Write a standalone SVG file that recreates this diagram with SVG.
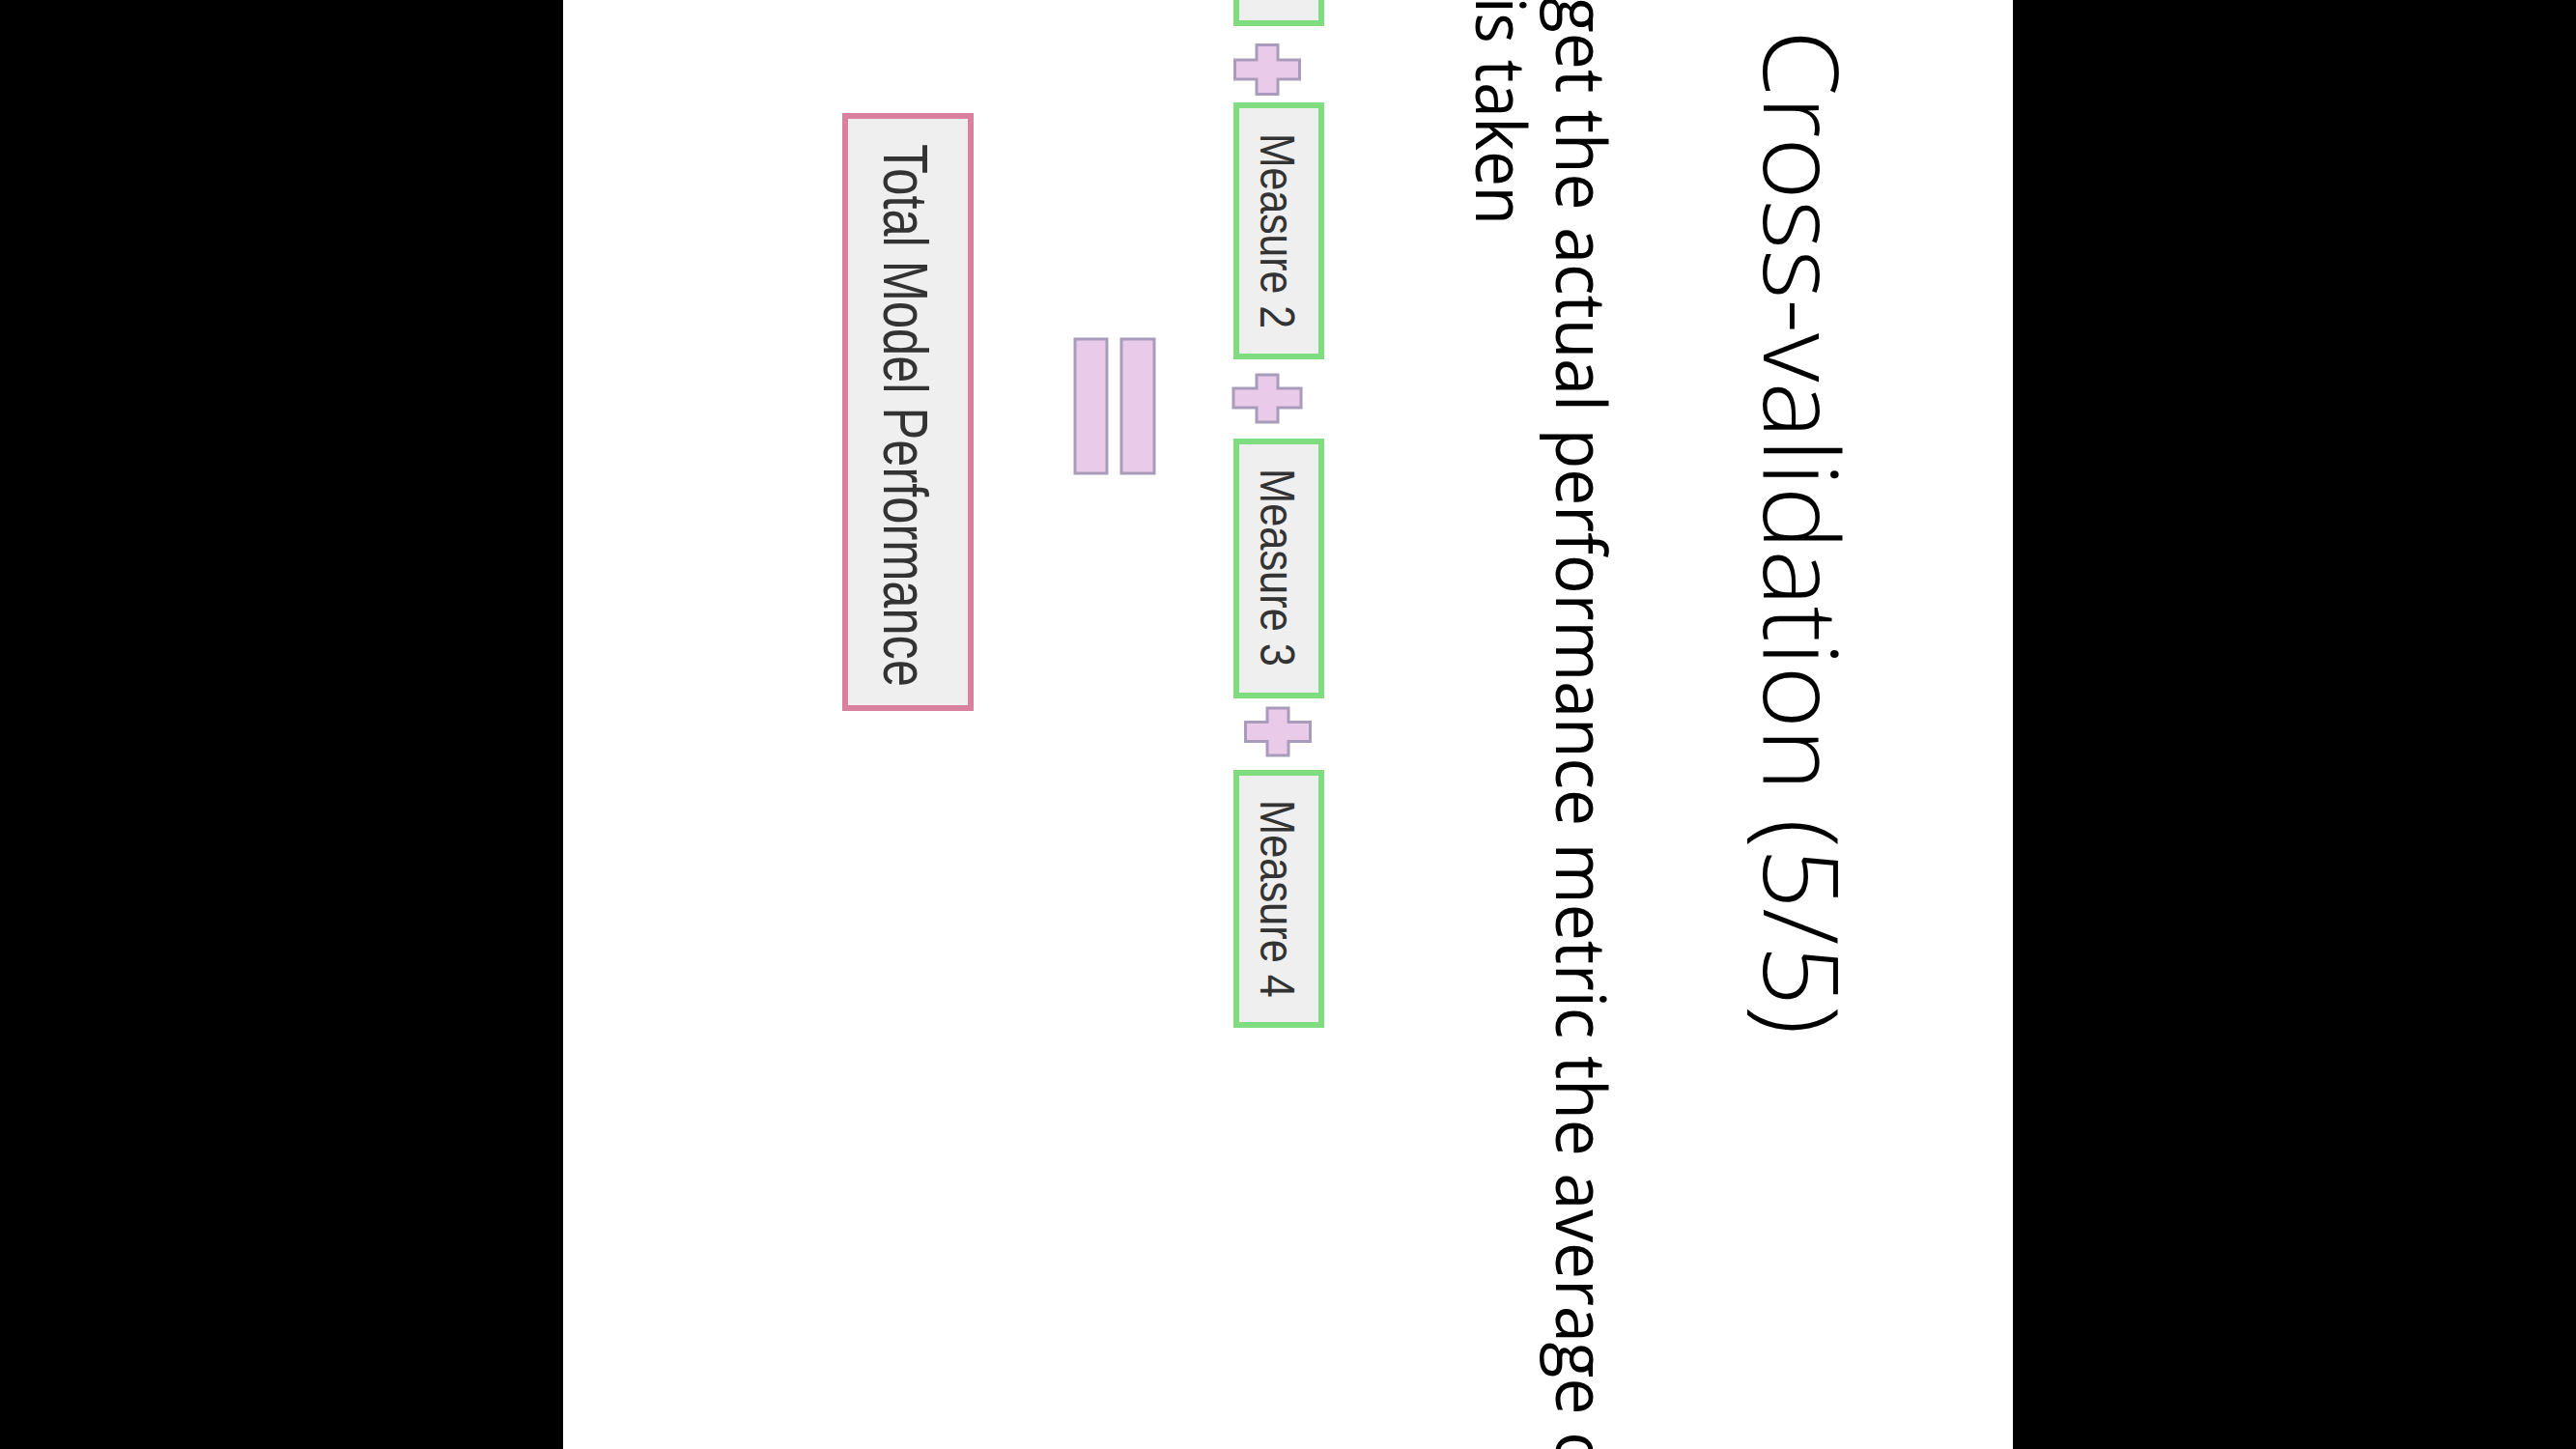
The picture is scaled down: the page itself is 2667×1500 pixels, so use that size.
<svg xmlns="http://www.w3.org/2000/svg" width="2667" height="1500" viewBox="0 0 2667 1500">
<style>
.title{font-family:"Open Sans","Segoe UI","Liberation Sans",sans-serif;font-weight:300;font-size:107px;fill:#000}
.body{font-family:"Open Sans","Segoe UI","Liberation Sans",sans-serif;font-weight:400;font-size:72px;fill:#000}
.lbl{font-family:"Liberation Sans",Arial,sans-serif;fill:#333}
.measure{fill:#efefef;stroke:#80dc80;stroke-width:6}
.total{fill:#efefef;stroke:#d9809e;stroke-width:6}
.op{fill:#e9cbe9;stroke:#a99cba;stroke-width:3}
</style>
<rect x="0" y="0" width="2667" height="1500" fill="#000"/>
<rect x="583" y="0" width="1501" height="1500" fill="#fff"/>
<g id="title">
<text class="title" transform="translate(1826,31) rotate(90)" textLength="1040" lengthAdjust="spacingAndGlyphs">Cross-validation (5/5)</text>
</g>
<g id="body-text">
<text class="body" transform="translate(1611,-3) rotate(90)" textLength="1526" lengthAdjust="spacingAndGlyphs">get the actual performance metric the average o</text>
<text class="body" transform="translate(1528,-3) rotate(90)" textLength="236" lengthAdjust="spacingAndGlyphs">is taken</text>
</g>
<g id="measure1">
<rect class="measure" x="1280" y="-200" width="88" height="224"/>
</g>
<g id="plus1">
<path class="op" d="M1301,46.5 H1323 V62 H1345.5 V82 H1323 V97.5 H1301 V82 H1278.5 V62 H1301 Z"/>
</g>
<g id="measure2">
<rect class="measure" x="1280" y="109" width="88" height="260"/>
<text class="lbl" font-size="50" transform="translate(1305,138) rotate(90)" textLength="202" lengthAdjust="spacingAndGlyphs">Measure 2</text>
</g>
<g id="plus2">
<path class="op" d="M1301,388 H1323 V402 H1347 V422 H1323 V437 H1301 V422 H1277 V402 H1301 Z"/>
</g>
<g id="measure3">
<rect class="measure" x="1280" y="457" width="88" height="263"/>
<text class="lbl" font-size="50" transform="translate(1305,485) rotate(90)" textLength="205" lengthAdjust="spacingAndGlyphs">Measure 3</text>
</g>
<g id="plus3">
<path class="op" d="M1312,733 H1334 V747.5 H1356.5 V767.5 H1334 V782 H1312 V767.5 H1289.5 V747.5 H1312 Z"/>
</g>
<g id="measure4">
<rect class="measure" x="1280" y="800" width="88" height="261"/>
<text class="lbl" font-size="50" transform="translate(1305,828) rotate(90)" textLength="205" lengthAdjust="spacingAndGlyphs">Measure 4</text>
</g>
<g id="equals">
<rect class="op" x="1113" y="351" width="33" height="139"/>
<rect class="op" x="1161" y="351" width="34" height="139"/>
</g>
<g id="total">
<rect class="total" x="875" y="120" width="130" height="613"/>
<text class="lbl" font-size="64" transform="translate(915,149) rotate(90)" textLength="562" lengthAdjust="spacingAndGlyphs">Total Model Performance</text>
</g>
<g id="connectors"/>
</svg>
